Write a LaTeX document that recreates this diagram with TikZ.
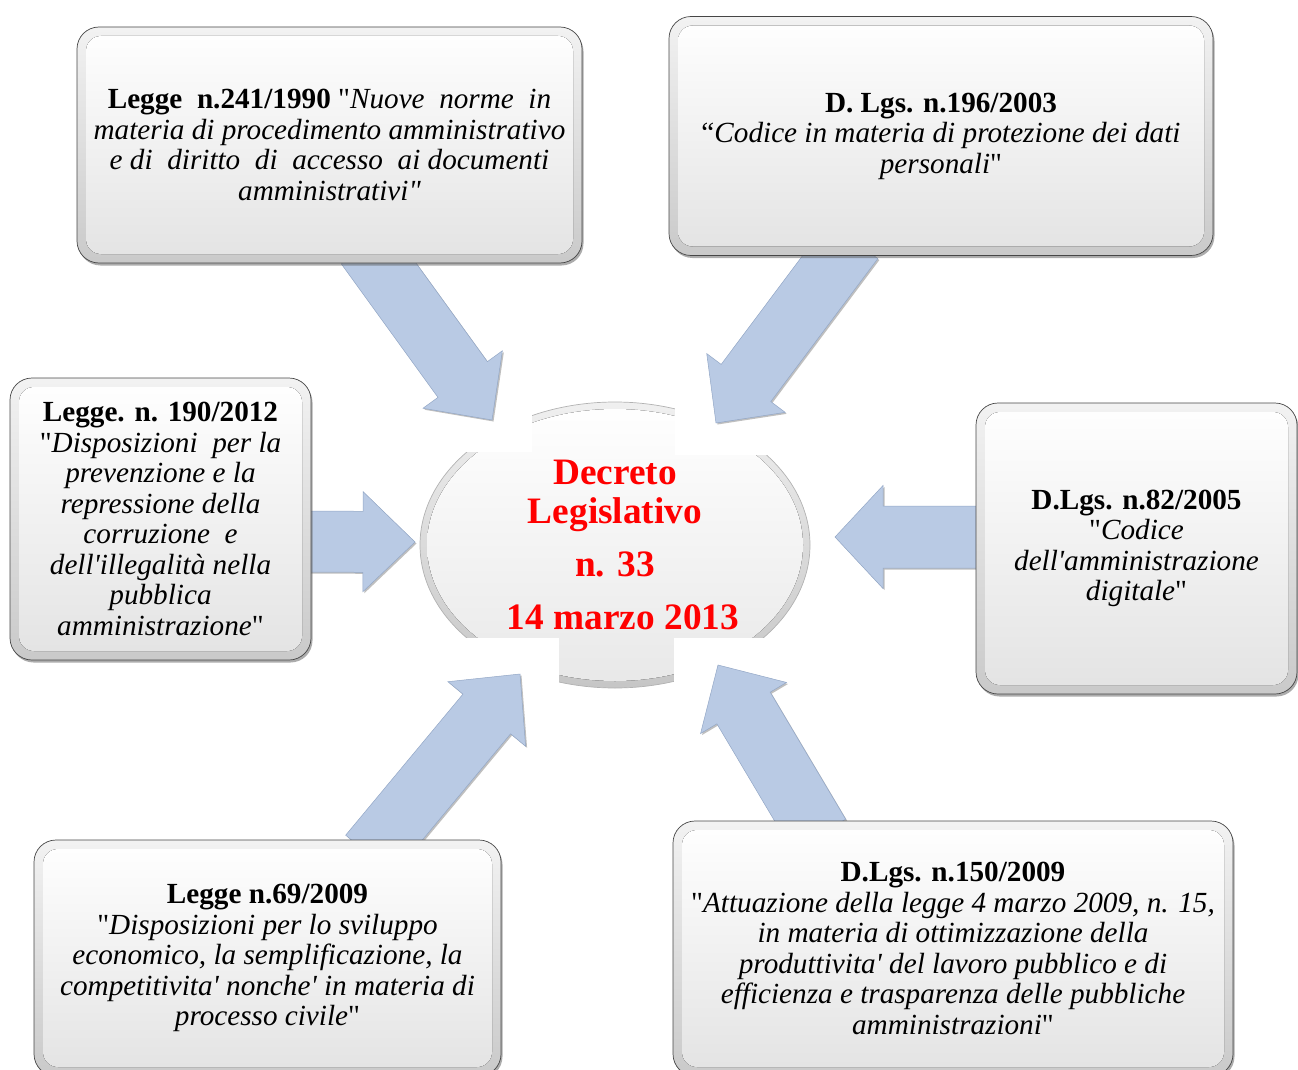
\documentclass[tikz,border=0pt]{standalone}
\usepackage{fontspec}
\setmainfont{Liberation Serif}
\usetikzlibrary{calc,shadows,shapes.geometric}
\definecolor{arrowfill}{HTML}{B9CAE4}
\definecolor{arrowedge}{HTML}{93A7C6}
\definecolor{titlered}{HTML}{FF0000}
\newcommand\ap{\textquotesingle}
\newcommand\dq{\XeTeXglyph\XeTeXcharglyph"22\relax}
% start, tip, half shaft width, half head width, head length
\newcommand\blockarrow[5]{%
  \coordinate (ah) at ($(#2)!#5pt!(#1)$);
  \path[arrowshape] ($(#1)!#3pt!90:(#2)$) -- ($(ah)!#3pt!90:(#2)$) -- ($(ah)!#4pt!90:(#2)$) -- (#2)
     -- ($(ah)!#4pt!-90:(#2)$) -- ($(ah)!#3pt!-90:(#2)$) -- ($(#1)!#3pt!-90:(#2)$) -- cycle;
}
\tikzset{
  arrowshape/.style={fill=arrowfill, draw=arrowedge, line width=0.5pt, line join=miter,
    drop shadow={shadow xshift=1.5pt, shadow yshift=-1.5pt, opacity=0.25, fill=black}},
  lawbox/.style={rounded corners=22pt, draw=gray!55!black, line width=0.7pt,
    top color=gray!10, bottom color=gray!42,
    drop shadow={shadow xshift=1.5pt, shadow yshift=-2.5pt, opacity=0.5, fill=gray!70!black},
    path picture={\fill[rounded corners=15pt, top color=white, bottom color=gray!22]
      ([shift={(9pt,-9pt)}]path picture bounding box.north west) rectangle
      ([shift={(-9pt,9pt)}]path picture bounding box.south east);},
    inner sep=0pt, align=center, font=\fontsize{29.2}{30.5}\selectfont, text=black},
  centre/.style={ellipse, minimum width=390pt, minimum height=286pt, inner sep=0pt,
    draw=gray!60, line width=0.7pt, top color=gray!12, bottom color=gray!45,
    path picture={\fill[top color=white, bottom color=gray!18]
      (path picture bounding box.center) ellipse [x radius=188pt, y radius=136pt];},
    align=center, text=titlered, font=\fontsize{37.3}{39}\selectfont\bfseries},
  mask/.style={fill=white}
}
\begin{document}
\begin{tikzpicture}[x=1pt,y=-1pt]
\useasboundingbox (0,0) rectangle (1298,1070);

% centre
\node[centre] (c) at (615,545) {Decreto\\Legislativo\\[14pt]n. 33\\[14pt]\hspace*{16pt}14 marzo 2013};
\fill[mask] (405,390) rectangle (532,452);
\fill[mask] (675,390) rectangle (825,455);
\fill[mask] (405,638) rectangle (559,705);
\fill[mask] (674,638) rectangle (825,705);

% arrow coordinates
\coordinate (s1) at (366,246);  \coordinate (t1) at (492,420);
\coordinate (s2) at (853,240);  \coordinate (t2) at (716,423);
\coordinate (s3) at (295,541.5);\coordinate (t3) at (415,542);
\coordinate (s4) at (990,537);  \coordinate (t4) at (835,537);
\coordinate (s5) at (369.5,855);\coordinate (t5) at (520,674);
\coordinate (s6) at (819,835);  \coordinate (t6) at (718,665);

\blockarrow{s1}{t1}{30.5}{49}{50}
\blockarrow{s2}{t2}{31}{49}{50}
\blockarrow{s3}{t3}{30.5}{50}{52}
\blockarrow{s4}{t4}{31}{51.5}{48}
\blockarrow{s5}{t5}{31}{50.5}{52}
\blockarrow{s6}{t6}{31}{50}{50}

% boxes
\node[lawbox, minimum width=505pt, minimum height=236pt] (b1) at (329.5,145)
 {\textbf{Legge\ \ n.241/1990} \dq\textit{Nuove\ \ norme\ \ in}\\
  \textit{materia di procedimento amministrativo}\\
  \textit{e di\ \ diritto\ \ di\ \ accesso\ \ ai documenti}\\
  \textit{amministrativi\dq}};
\node[lawbox, minimum width=544pt, minimum height=239pt] (b2) at (941,136)
 {\textbf{D. Lgs. n.196/2003}\\
  ``\textit{Codice in materia di protezione dei dati}\\
  \textit{personali}\dq};
\node[lawbox, minimum width=301pt, minimum height=282pt] (b3) at (160.5,519)
 {\textbf{Legge. n. 190/2012}\\
  \dq\textit{Disposizioni\ \ per la}\\
  \textit{prevenzione e la}\\
  \textit{repressione della}\\
  \textit{corruzione\ \ e}\\
  \textit{dell\ap illegalità nella}\\
  \textit{pubblica}\\
  \textit{amministrazione}\dq};
\node[lawbox, minimum width=321pt, minimum height=291pt] (b4) at (1136.5,548.5)
 {\textbf{D.Lgs. n.82/2005}\\
  \dq\textit{Codice}\\
  \textit{dell\ap amministrazione}\\
  \textit{digitale}\dq};
\node[lawbox, minimum width=467pt, minimum height=236pt] (b5) at (267.5,958)
 {\textbf{Legge n.69/2009}\\
  \dq\textit{Disposizioni per lo sviluppo}\\
  \textit{economico, la semplificazione, la}\\
  \textit{competitivita\ap\ nonche\ap\ in materia di}\\
  \textit{processo civile}\dq};
\node[lawbox, minimum width=560pt, minimum height=255pt] (b6) at (953,948.5)
 {\textbf{D.Lgs. n.150/2009}\\
  \dq\textit{Attuazione della legge 4 marzo 2009, n. 15,}\\
  \textit{in materia di ottimizzazione della}\\
  \textit{produttivita\ap\ del lavoro pubblico e di}\\
  \textit{efficienza e trasparenza delle pubbliche}\\
  \textit{amministrazioni}\dq};
\end{tikzpicture}
\end{document}
